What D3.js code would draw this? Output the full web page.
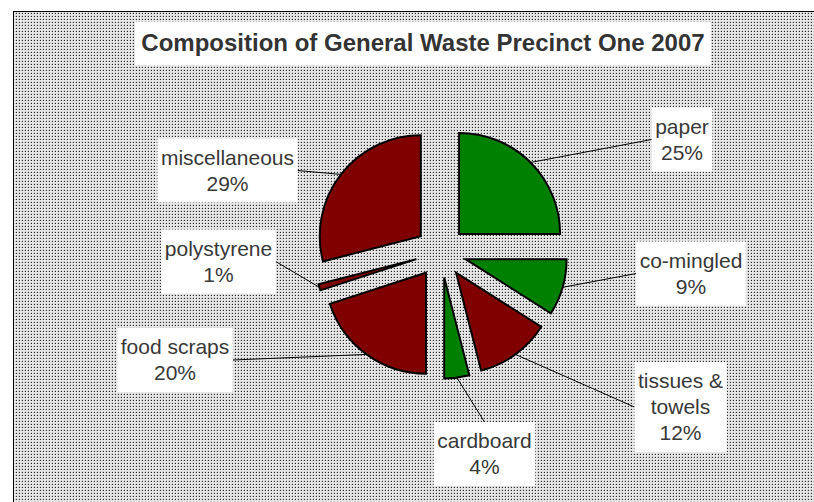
<!DOCTYPE html>
<html>
<head>
<meta charset="utf-8">
<script src="https://cdn.jsdelivr.net/npm/d3@7/dist/d3.min.js"></script>
<style>
  html, body { margin: 0; padding: 0; background: #ffffff; }
  svg { display: block; }
</style>
</head>
<body>
<svg id="chart" width="814" height="502"></svg>
<script>
// ---- data ----
const title = "Composition of General Waste Precinct One 2007";
const categories = ["paper", "co-mingled", "tissues & towels", "cardboard", "food scraps", "polystyrene", "miscellaneous"];
const values = [25, 9, 12, 4, 20, 1, 29];
const labelLines = [["paper"], ["co-mingled"], ["tissues &", "towels"], ["cardboard"], ["food scraps"], ["polystyrene"], ["miscellaneous"]];
const sliceColors = ["#008000", "#008000", "#800000", "#008000", "#800000", "#800000", "#800000"];

// ---- layout ----
const W = 814, H = 502;
const cx = 441, cy = 252, R = 101, explode = 25.6;
const labelFont = 21, lineH = 26;
// label box centres and the side from which leader lines leave
const labelLayout = [
  { x: 682,   y: 139.5, side: "left" },
  { x: 691,   y: 273.5, side: "left" },
  { x: 680.5, y: 407,   side: "left" },
  { x: 484.5, y: 454,   side: "top" },
  { x: 175,   y: 360,   side: "right" },
  { x: 218.5, y: 261.5, side: "right" },
  { x: 227.5, y: 170.5, side: "right" }
];

const svg = d3.select("#chart");
const defs = svg.append("defs");
const pat = defs.append("pattern")
  .attr("id", "dots").attr("patternUnits", "userSpaceOnUse")
  .attr("width", 3).attr("height", 3);
pat.append("rect").attr("width", 3).attr("height", 3).attr("fill", "#e6e6e6");
pat.append("rect").attr("x", 1).attr("y", 1).attr("width", 1).attr("height", 1).attr("fill", "#2e2e2e");
pat.append("rect").attr("x", 0).attr("y", 1).attr("width", 1).attr("height", 1).attr("fill", "#c2c2c2");
pat.append("rect").attr("x", 1).attr("y", 0).attr("width", 1).attr("height", 1).attr("fill", "#c8c8c8");

// chart area
svg.append("rect").attr("x", 13.5).attr("y", 11.5).attr("width", W).attr("height", H)
  .attr("fill", "url(#dots)").attr("stroke", "#000").attr("stroke-width", 1);

// title
const tg = svg.append("g");
tg.append("text").attr("x", 423).attr("y", 51)
  .attr("text-anchor", "middle")
  .attr("font-family", "Liberation Sans, Arial, sans-serif")
  .attr("font-weight", "bold").attr("font-size", 24).attr("fill", "#333")
  .text(title);
tg.insert("rect", "text").attr("x", 135).attr("y", 22).attr("width", 576).attr("height", 43).attr("fill", "#fff");

// pie
const pie = d3.pie().sort(null).value(d => d)(values);
const arc = d3.arc().innerRadius(0).outerRadius(R);
const offsetOf = d => {
  const a = (d.startAngle + d.endAngle) / 2;
  return [Math.sin(a) * explode, -Math.cos(a) * explode];
};
const pg = svg.append("g").attr("transform", `translate(${cx},${cy})`);
pg.selectAll("path").data(pie).enter().append("path")
  .attr("transform", d => { const o = offsetOf(d); return `translate(${o[0]},${o[1]})`; })
  .attr("d", arc)
  .attr("fill", (d, i) => sliceColors[i])
  .attr("stroke", "#000").attr("stroke-width", 2).attr("stroke-linejoin", "miter");

// labels
const lg = svg.append("g");
pie.forEach((d, i) => {
  const L = labelLayout[i];
  const lines = labelLines[i].concat([values[i] + "%"]);
  const n = lines.length;
  const g = lg.append("g");
  const txt = g.append("text")
    .attr("font-family", "Liberation Sans, Arial, sans-serif")
    .attr("font-size", labelFont).attr("fill", "#383838").attr("text-anchor", "middle");
  lines.forEach((s, j) => {
    txt.append("tspan").attr("x", L.x).attr("y", L.y + 7 + (j - (n - 1) / 2) * lineH).text(s);
  });
  const bb = txt.node().getBBox();
  const bw = bb.width + 7, bh = n * lineH + 12;
  const bx = L.x - bw / 2, by = L.y - bh / 2;
  g.insert("rect", "text").attr("x", bx).attr("y", by).attr("width", bw).attr("height", bh).attr("fill", "#fff");
  // leader line
  const a = (d.startAngle + d.endAngle) / 2;
  const ex = cx + Math.sin(a) * (explode + R), ey = cy - Math.cos(a) * (explode + R);
  let sx, sy;
  if (L.side === "left") { sx = bx; sy = L.y; }
  else if (L.side === "right") { sx = bx + bw; sy = L.y; }
  else { sx = L.x; sy = by; }
  lg.insert("line", ":first-child").attr("x1", sx).attr("y1", sy).attr("x2", ex).attr("y2", ey)
    .attr("stroke", "#000").attr("stroke-width", 1);
});
</script>
</body>
</html>
